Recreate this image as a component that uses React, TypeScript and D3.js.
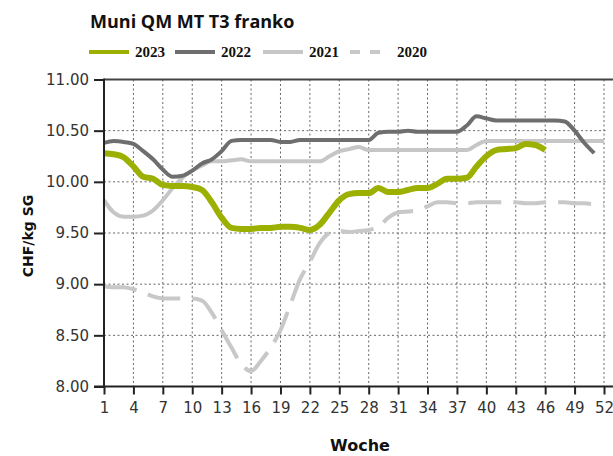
import * as React from 'react';
import * as d3 from 'd3';

const title = 'Muni QM MT T3 franko';
const seriesNames = ['2023', '2022', '2021', '2020'];

const values2023 = [
  10.28, 10.27, 10.24, 10.15, 10.05, 10.03, 9.97, 9.96, 9.96, 9.95,
  9.92, 9.8, 9.65, 9.55, 9.54, 9.54, 9.55, 9.55, 9.56, 9.56,
  9.55, 9.53, 9.58, 9.7, 9.82, 9.88, 9.89, 9.89, 9.94, 9.9,
  9.9, 9.92, 9.94, 9.94, 9.98, 10.03, 10.03, 10.04, 10.15, 10.25,
  10.31, 10.32, 10.33, 10.37, 10.36, 10.31];

const values2022 = [
  10.38, 10.4, 10.39, 10.37, 10.3, 10.22, 10.12, 10.05, 10.06, 10.11,
  10.18, 10.22, 10.3, 10.4, 10.41, 10.41, 10.41, 10.41, 10.39, 10.39,
  10.41, 10.41, 10.41, 10.41, 10.41, 10.41, 10.41, 10.41, 10.48, 10.49,
  10.49, 10.5, 10.49, 10.49, 10.49, 10.49, 10.49, 10.55, 10.64, 10.62,
  10.6, 10.6, 10.6, 10.6, 10.6, 10.6, 10.6, 10.59, 10.5, 10.38,
  10.28];

const values2021 = [
  9.82, 9.7, 9.66, 9.66, 9.67, 9.72, 9.82, 9.94, 10.04, 10.11,
  10.16, 10.2, 10.2, 10.21, 10.22, 10.2, 10.2, 10.2, 10.2, 10.2,
  10.2, 10.2, 10.2, 10.25, 10.3, 10.32, 10.34, 10.31, 10.31, 10.31,
  10.31, 10.31, 10.31, 10.31, 10.31, 10.31, 10.31, 10.31, 10.36, 10.4,
  10.4, 10.4, 10.4, 10.4, 10.4, 10.4, 10.4, 10.4, 10.4, 10.4,
  10.4, 10.4];

const values2020 = [
  8.98, 8.97, 8.97, 8.95, 8.92, 8.88, 8.86, 8.86, 8.86, 8.86,
  8.84, 8.72, 8.55, 8.38, 8.22, 8.15, 8.25, 8.38, 8.55, 8.8,
  9.05, 9.22, 9.4, 9.5, 9.52, 9.51, 9.52, 9.53, 9.56, 9.65,
  9.7, 9.71, 9.72, 9.76, 9.8, 9.8, 9.79, 9.79, 9.8, 9.8,
  9.8, 9.8, 9.8, 9.79, 9.79, 9.8, 9.8, 9.8, 9.79, 9.79,
  9.78, 9.77];

const xTicks = [1, 4, 7, 10, 13, 16, 19, 22, 25, 28, 31, 34, 37, 40, 43, 46, 49, 52];
const yTicks = [8, 8.5, 9, 9.5, 10, 10.5, 11];

class App extends React.Component {
  private element;

  componentDidMount() {
    this.draw();
  }

  draw() {
    const svg = d3.select(this.element);
    svg.selectAll('*').remove();

    const x = d3.scaleLinear().domain([1, 52]).range([104, 604]);
    const y = d3.scaleLinear().domain([8, 11]).range([386.5, 79.5]);

    // grid
    const grid = svg.append('g').attr('stroke', '#666').attr('stroke-width', 1)
      .attr('stroke-dasharray', '2,2.5');
    grid.selectAll('line.h').data(yTicks.slice(1, -1)).enter().append('line')
      .attr('x1', 104).attr('x2', 606)
      .attr('y1', d => y(d)).attr('y2', d => y(d));
    grid.selectAll('line.v').data(xTicks.slice(1)).enter().append('line')
      .attr('x1', d => x(d)).attr('x2', d => x(d))
      .attr('y1', y(11)).attr('y2', y(8));

    // top border
    svg.append('line').attr('x1', 104).attr('x2', 613)
      .attr('y1', y(11)).attr('y2', y(11))
      .attr('stroke', '#444').attr('stroke-width', 2);

    const line = d3.line<number>()
      .x((d, i) => x(i + 1))
      .y(d => y(d))
      .curve(d3.curveMonotoneX);

    const series = [
      { data: values2020, color: '#c8c8c8', width: 4, dash: '33,12' },
      { data: values2021, color: '#c6c6c6', width: 4, dash: null },
      { data: values2022, color: '#6e6e6e', width: 4, dash: null },
      { data: values2023, color: '#9bb000', width: 6, dash: null }
    ];
    series.forEach(s => {
      svg.append('path')
        .attr('d', line(s.data))
        .attr('fill', 'none')
        .attr('stroke', s.color)
        .attr('stroke-width', s.width)
        .attr('stroke-linejoin', 'round')
        .attr('stroke-dasharray', s.dash);
    });

    // axes
    const yAxis = d3.axisLeft(y).tickValues(yTicks).tickSize(10).tickPadding(4)
      .tickFormat(d => d3.format('.2f')(d as number));
    const yg = svg.append('g').attr('transform', 'translate(104,0)').call(yAxis);
    yg.select('.domain').remove();
    yg.selectAll('line').attr('stroke', '#222').attr('stroke-width', 2);
    yg.selectAll('text').attr('font-family', 'DejaVu Sans').attr('font-size', 15)
      .attr('fill', '#333').attr('dx', -1);

    const xAxis = d3.axisBottom(x).tickValues(xTicks).tickSize(8).tickPadding(8)
      .tickFormat(d => String(d));
    const xg = svg.append('g').attr('transform', `translate(0,${y(8)})`).call(xAxis);
    xg.select('.domain').remove();
    xg.selectAll('line').attr('stroke', '#222').attr('stroke-width', 2);
    xg.selectAll('text').attr('font-family', 'DejaVu Sans').attr('font-size', 15)
      .attr('fill', '#333');

    svg.append('line').attr('x1', 104).attr('x2', 104)
      .attr('y1', y(11) - 1).attr('y2', y(8) + 1)
      .attr('stroke', '#222').attr('stroke-width', 2);
    svg.append('line').attr('x1', 94).attr('x2', 613)
      .attr('y1', y(8)).attr('y2', y(8))
      .attr('stroke', '#222').attr('stroke-width', 2);

    // titles
    svg.append('text').attr('x', 90).attr('y', 28)
      .attr('font-family', 'Open Sans').attr('font-weight', 'bold')
      .attr('font-size', 18).attr('fill', '#111').text(title);

    svg.append('text').attr('x', 360).attr('y', 451)
      .attr('text-anchor', 'middle')
      .attr('font-family', 'DejaVu Sans').attr('font-weight', 'bold')
      .attr('font-size', 16).attr('fill', '#111').text('Woche');

    svg.append('text')
      .attr('transform', 'translate(33,236) rotate(-90)')
      .attr('text-anchor', 'middle')
      .attr('font-family', 'DejaVu Sans').attr('font-weight', 'bold')
      .attr('font-size', 14).attr('fill', '#111').text('CHF/kg SG');

    // legend
    const legendX = [89, 175, 263, 350];
    const legendStyle = [
      { color: '#9bb000', dash: null },
      { color: '#6e6e6e', dash: null },
      { color: '#c6c6c6', dash: null },
      { color: '#c8c8c8', dash: '10,10' }
    ];
    seriesNames.forEach((name, i) => {
      const lx = legendX[i];
      svg.append('line').attr('x1', lx).attr('x2', i === 3 ? lx + 30 : lx + 40)
        .attr('y1', 52).attr('y2', 52)
        .attr('stroke', legendStyle[i].color).attr('stroke-width', 4)
        .attr('stroke-dasharray', legendStyle[i].dash);
      svg.append('text').attr('x', i === 3 ? lx + 47 : lx + 46).attr('y', 57)
        .attr('font-family', 'Liberation Serif').attr('font-weight', 'bold')
        .attr('font-size', 15).attr('fill', '#111').text(name);
    });
  }

  render() {
    return <svg ref={(ref) => (this.element = ref)} width={613} height={456}
      style={{ position: 'absolute', left: 0, top: 0, background: '#fff' }} />;
  }
}

export default App;
